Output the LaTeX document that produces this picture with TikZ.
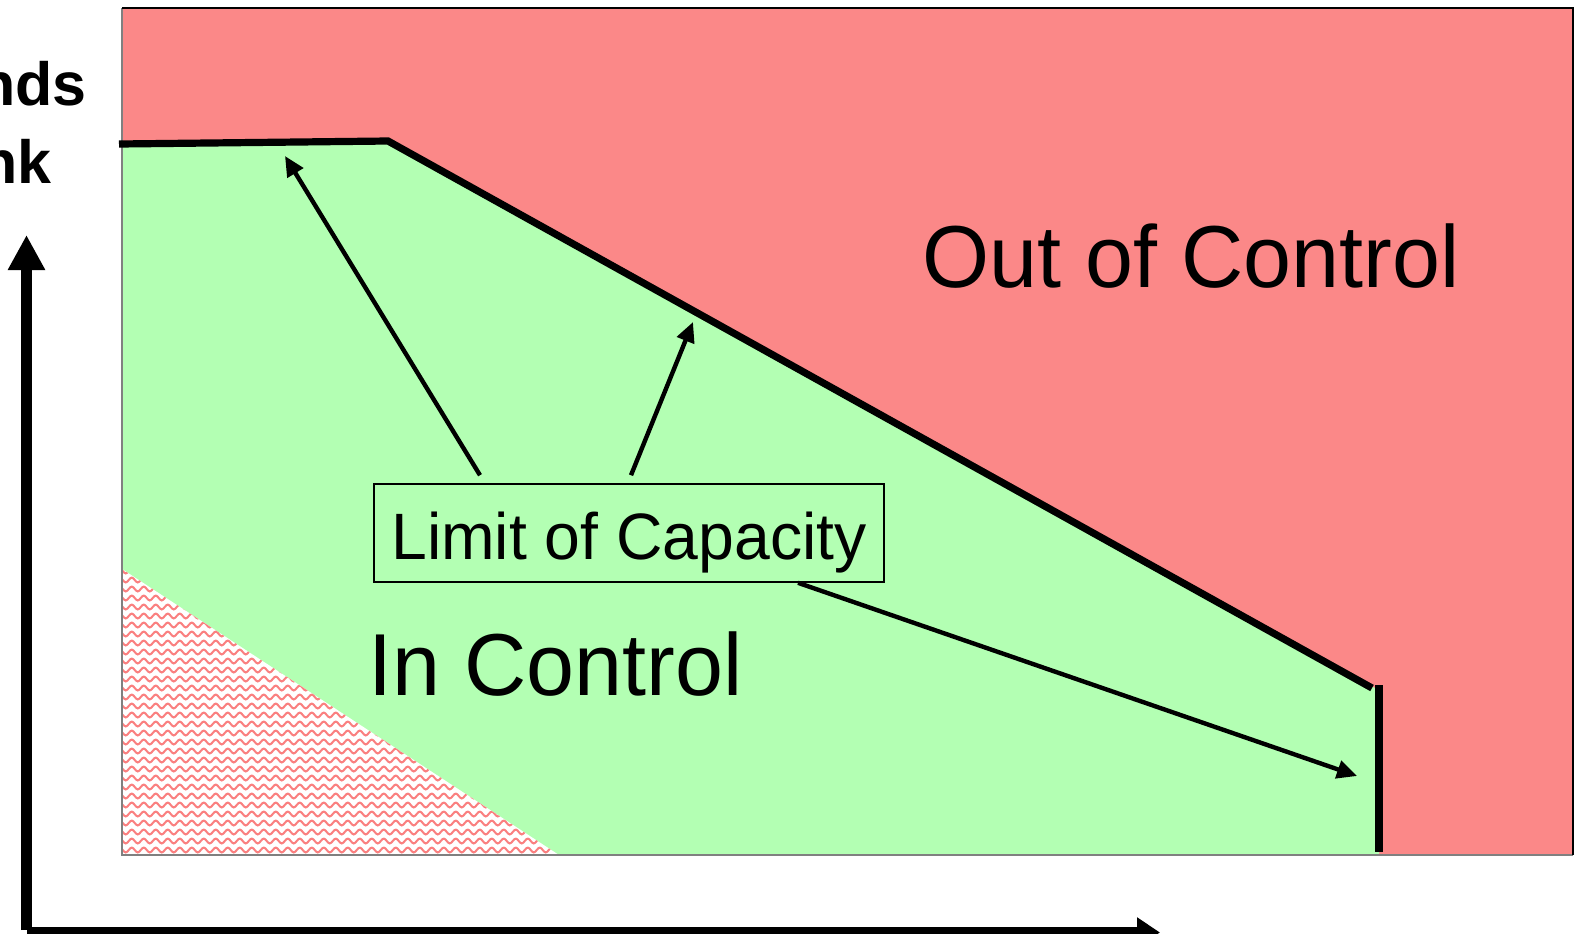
\documentclass[tikz,border=0pt]{standalone}
\usepackage{fontspec}
\setmainfont{Liberation Sans}[FakeStretch=0.98]
\newfontfamily\axisfont{Liberation Sans}
\usepackage{tikz}
\usetikzlibrary{arrows.meta}
\usetikzlibrary{decorations.pathmorphing}
\usetikzlibrary{calc}

\definecolor{outred}{RGB}{251,136,136}
\definecolor{ingreen}{RGB}{179,255,179}
\definecolor{hatchred}{RGB}{250,128,128}

\begin{document}
\begin{tikzpicture}[x=0.5pt,y=-0.5pt,
   pointer/.style={line width=2.2pt, -{Triangle[length=10pt,width=9pt]}},
   axis/.style={line width=5.5pt},
   big/.style={anchor=base west, inner sep=0, font=\fontsize{44pt}{48pt}\selectfont}]

  \clip (0,0) rectangle (1579,933);

	%regions
  \fill[outred] (122,8) rectangle (1573,855);
  \fill[ingreen] (122,144) -- (388,141) -- (1375,688) -- (1379,688) -- (1379,855) -- (122,855) -- cycle;

	%hatched corner
  \begin{scope}
    \clip (122,569) -- (122,855) -- (559,855) -- cycle;
    \fill[white] (122,569) rectangle (559,855);
    \foreach \i in {0,...,32}{
       \draw[hatchred, line width=1pt, decorate, decoration={snake, segment length=6pt, amplitude=1.2pt}] (116, 571+\i*9) -- (566, 571+\i*9);
    }
  \end{scope}

	%frame
  \draw[gray, line width=0.6pt] (122,8) -- (122,855) -- (1573,855);
  \draw[line width=1pt] (122,8) -- (1573,8) -- (1573,855);

	%limit line
  \coordinate (L0) at (119,144);
  \coordinate (L1) at (388,141);
  \coordinate (L2) at (1372,688);
  \coordinate (V0) at (1379,685);
  \coordinate (V1) at (1379,852);
  \draw[line width=3.6pt] (L0) -- (L1) -- (L2);
  \draw[line width=4pt] (V0) -- (V1);

	%texts
  \node[big] (out) at (922,287) {Out of Control};
  \node[big] (in) at (368,695) {In Control};
  \node[draw, line width=0.8pt, anchor=base, minimum width=255pt, inner xsep=0, inner ysep=0,
        text height=37.5pt, text depth=11.5pt, font=\fontsize{32.8pt}{36pt}\selectfont] (lim) at (629,559) {Limit of Capacity};

	%arrows to the limit
  \coordinate (a1) at (285,156);
  \coordinate (a2) at (693,322);
  \coordinate (a3) at (1357,776);
  \draw[pointer] ([xshift=-74.5pt,yshift=4pt]lim.north) -- (a1);
  \draw[pointer] ([xshift=1pt,yshift=4pt]lim.north) -- (a2);
  \draw[pointer] ([xshift=84.5pt]lim.south) -- (a3);

	%axes
  \coordinate (O) at (26.5,930);
  \coordinate (ytip) at (26.5,235);
  \coordinate (xo) at (27,932.5);
  \coordinate (xtip) at (1160,932.5);
  \draw[axis, -{Triangle[length=17.5pt,width=17.5pt]}] (O) -- (ytip);
  \draw[axis, -{Triangle[length=11.5pt,width=14.5pt]}] (xo) -- (xtip);

  \node[anchor=base east, inner sep=0, font=\axisfont\fontsize{30.5pt}{34pt}\selectfont\bfseries] (w1) at (87,105) {nds};
  \node[anchor=base east, inner sep=0, font=\axisfont\fontsize{30.5pt}{34pt}\selectfont\bfseries] (w2) at (52,183) {nk};

\end{tikzpicture}
\end{document}
